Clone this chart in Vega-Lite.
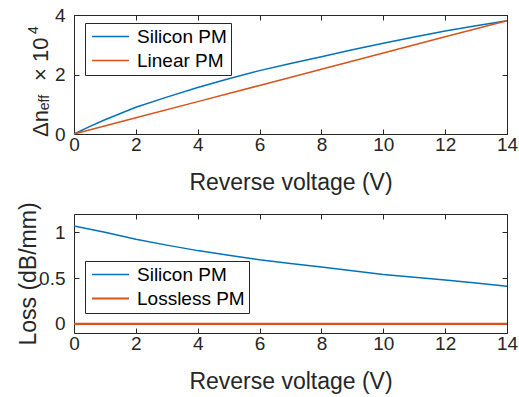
{
  "$schema": "https://vega.github.io/schema/vega-lite/v6.json",
  "padding": {"left": 17, "top": 6, "right": 0, "bottom": 4},
  "bounds": "flush",
  "spacing": 80,
  "background": "white",
  "config": {
    "font": "Liberation Sans",
    "view": {"stroke": null},
    "axis": {
      "grid": false,
      "labelFontSize": 19,
      "titleFontSize": 23,
      "titleFontWeight": "normal",
      "labelColor": "#262626",
      "titleColor": "#262626",
      "domainColor": "#262626",
      "tickColor": "#262626",
      "tickSize": -5,
      "domainWidth": 1,
      "tickWidth": 1,
      "labelFlush": false
    },
    "axisX": {"labelPadding": 6, "titlePadding": 17},
    "axisY": {"labelPadding": 14, "titlePadding": -2},
    "legend": {
      "orient": "none",
      "labelFontSize": 19,
      "labelColor": "black",
      "symbolType": "M-1,0H4.7",
      "symbolSize": 169,
      "symbolStrokeWidth": 1.5,
      "strokeColor": "#262626",
      "fillColor": "white",
      "padding": 4,
      "rowPadding": 4,
      "labelOffset": 29
    }
  },
  "datasets": {
    "dn": [
      {"v": 0, "val": 0, "series": "Silicon PM"},
      {"v": 0.5, "val": 0.25, "series": "Silicon PM"},
      {"v": 1, "val": 0.48, "series": "Silicon PM"},
      {"v": 2, "val": 0.9, "series": "Silicon PM"},
      {"v": 3, "val": 1.24, "series": "Silicon PM"},
      {"v": 4, "val": 1.56, "series": "Silicon PM"},
      {"v": 5, "val": 1.86, "series": "Silicon PM"},
      {"v": 6, "val": 2.13, "series": "Silicon PM"},
      {"v": 7, "val": 2.37, "series": "Silicon PM"},
      {"v": 8, "val": 2.6, "series": "Silicon PM"},
      {"v": 9, "val": 2.83, "series": "Silicon PM"},
      {"v": 10, "val": 3.05, "series": "Silicon PM"},
      {"v": 11, "val": 3.26, "series": "Silicon PM"},
      {"v": 12, "val": 3.46, "series": "Silicon PM"},
      {"v": 13, "val": 3.64, "series": "Silicon PM"},
      {"v": 14, "val": 3.81, "series": "Silicon PM"},
      {"v": 0, "val": 0, "series": "Linear PM"},
      {"v": 2, "val": 0.544, "series": "Linear PM"},
      {"v": 4, "val": 1.089, "series": "Linear PM"},
      {"v": 6, "val": 1.633, "series": "Linear PM"},
      {"v": 8, "val": 2.177, "series": "Linear PM"},
      {"v": 10, "val": 2.721, "series": "Linear PM"},
      {"v": 12, "val": 3.266, "series": "Linear PM"},
      {"v": 14, "val": 3.81, "series": "Linear PM"}
    ],
    "loss": [
      {"v": 0, "val": 1.07, "series": "Silicon PM"},
      {"v": 1, "val": 1.0, "series": "Silicon PM"},
      {"v": 2, "val": 0.925, "series": "Silicon PM"},
      {"v": 3, "val": 0.86, "series": "Silicon PM"},
      {"v": 4, "val": 0.8, "series": "Silicon PM"},
      {"v": 5, "val": 0.75, "series": "Silicon PM"},
      {"v": 6, "val": 0.7, "series": "Silicon PM"},
      {"v": 7, "val": 0.66, "series": "Silicon PM"},
      {"v": 8, "val": 0.62, "series": "Silicon PM"},
      {"v": 9, "val": 0.58, "series": "Silicon PM"},
      {"v": 10, "val": 0.54, "series": "Silicon PM"},
      {"v": 11, "val": 0.51, "series": "Silicon PM"},
      {"v": 12, "val": 0.48, "series": "Silicon PM"},
      {"v": 13, "val": 0.445, "series": "Silicon PM"},
      {"v": 14, "val": 0.41, "series": "Silicon PM"},
      {"v": 0, "val": 0, "series": "Lossless PM"},
      {"v": 7, "val": 0, "series": "Lossless PM"},
      {"v": 14, "val": 0, "series": "Lossless PM"}
    ]
  },
  "resolve": {"scale": {"color": "independent", "strokeWidth": "independent"}, "legend": {"color": "independent", "strokeWidth": "independent"}},
  "vconcat": [
    {
      "width": 433,
      "height": 119,
      "layer": [
        {
          "data": {"name": "dn"},
          "mark": {"type": "line", "strokeWidth": 1.5},
          "encoding": {
            "x": {"field": "v", "type": "quantitative", "scale": {"domain": [0, 14], "nice": false}, "axis": {"orient": "bottom", "values": [0, 2, 4, 6, 8, 10, 12, 14], "title": "Reverse voltage (V)"}},
            "y": {"field": "val", "type": "quantitative", "scale": {"domain": [0, 4], "nice": false}, "axis": {"orient": "left", "values": [0, 2, 4], "title": null}},
            "color": {"field": "series", "type": "nominal", "title": null, "scale": {"domain": ["Silicon PM", "Linear PM"], "range": ["#0072BD", "#D95319"]}, "legend": {"legendX": 11, "legendY": 8}}
          }
        },
        {
          "data": {"values": [{"k": 1}]},
          "mark": {"type": "point", "opacity": 0},
          "encoding": {
            "x": {"datum": 0, "type": "quantitative", "scale": {"domain": [0, 14], "nice": false}, "axis": {"orient": "top", "values": [0, 2, 4, 6, 8, 10, 12, 14], "labels": false, "title": null}},
            "y": {"datum": 0, "type": "quantitative", "scale": {"domain": [0, 4], "nice": false}, "axis": {"orient": "right", "values": [0, 2, 4], "labels": false, "title": null}}
          }
        },
        {
          "data": {"values": [{"t": "Δn"}]},
          "mark": {"type": "text", "angle": 270, "align": "left", "baseline": "alphabetic", "fontSize": 22, "color": "#262626"},
          "encoding": {
            "x": {"datum": -0.85, "type": "quantitative", "axis": null},
            "y": {"datum": -0.1, "type": "quantitative", "axis": null},
            "text": {"field": "t"}
          }
        },
        {
          "data": {"values": [{"t": "eff"}]},
          "mark": {"type": "text", "angle": 270, "align": "left", "baseline": "alphabetic", "fontSize": 14, "color": "#262626"},
          "encoding": {
            "x": {"datum": -0.8, "type": "quantitative", "axis": null},
            "y": {"datum": 0.8, "type": "quantitative", "axis": null},
            "text": {"field": "t"}
          }
        },
        {
          "data": {"values": [{"t": "×"}]},
          "mark": {"type": "text", "angle": 270, "align": "left", "baseline": "alphabetic", "fontSize": 22, "color": "#262626"},
          "encoding": {
            "x": {"datum": -0.85, "type": "quantitative", "axis": null},
            "y": {"datum": 1.78, "type": "quantitative", "axis": null},
            "text": {"field": "t"}
          }
        },
        {
          "data": {"values": [{"t": "10"}]},
          "mark": {"type": "text", "angle": 270, "align": "left", "baseline": "alphabetic", "fontSize": 22, "color": "#262626"},
          "encoding": {
            "x": {"datum": -0.85, "type": "quantitative", "axis": null},
            "y": {"datum": 2.42, "type": "quantitative", "axis": null},
            "text": {"field": "t"}
          }
        },
        {
          "data": {"values": [{"t": "4"}]},
          "mark": {"type": "text", "angle": 270, "align": "left", "baseline": "alphabetic", "fontSize": 14, "color": "#262626"},
          "encoding": {
            "x": {"datum": -1.15, "type": "quantitative", "axis": null},
            "y": {"datum": 3.36, "type": "quantitative", "axis": null},
            "text": {"field": "t"}
          }
        }
      ],
      "resolve": {"axis": {"x": "independent", "y": "independent"}}
    },
    {
      "width": 433,
      "height": 119,
      "layer": [
        {
          "data": {"name": "loss"},
          "mark": {"type": "line"},
          "encoding": {
            "x": {"field": "v", "type": "quantitative", "scale": {"domain": [0, 14], "nice": false}, "axis": {"orient": "bottom", "values": [0, 2, 4, 6, 8, 10, 12, 14], "title": "Reverse voltage (V)"}},
            "y": {"field": "val", "type": "quantitative", "scale": {"domain": [-0.1, 1.2], "nice": false, "zero": false}, "axis": {"orient": "left", "values": [0, 0.5, 1], "format": "~g", "title": "Loss (dB/mm)"}},
            "color": {"field": "series", "type": "nominal", "title": null, "scale": {"domain": ["Silicon PM", "Lossless PM"], "range": ["#0072BD", "#D95319"]}, "legend": {"legendX": 11, "legendY": 47}},
            "strokeWidth": {"field": "series", "type": "nominal", "title": null, "scale": {"domain": ["Silicon PM", "Lossless PM"], "range": [1.5, 2.2]}, "legend": {"legendX": 11, "legendY": 47}}
          }
        },
        {
          "data": {"values": [{"k": 1}]},
          "mark": {"type": "point", "opacity": 0},
          "encoding": {
            "x": {"datum": 0, "type": "quantitative", "scale": {"domain": [0, 14], "nice": false}, "axis": {"orient": "top", "values": [0, 2, 4, 6, 8, 10, 12, 14], "labels": false, "title": null}},
            "y": {"datum": 0, "type": "quantitative", "scale": {"domain": [-0.1, 1.2], "nice": false, "zero": false}, "axis": {"orient": "right", "values": [0, 0.5, 1], "labels": false, "title": null}}
          }
        }
      ],
      "resolve": {"axis": {"x": "independent", "y": "independent"}}
    }
  ]
}
